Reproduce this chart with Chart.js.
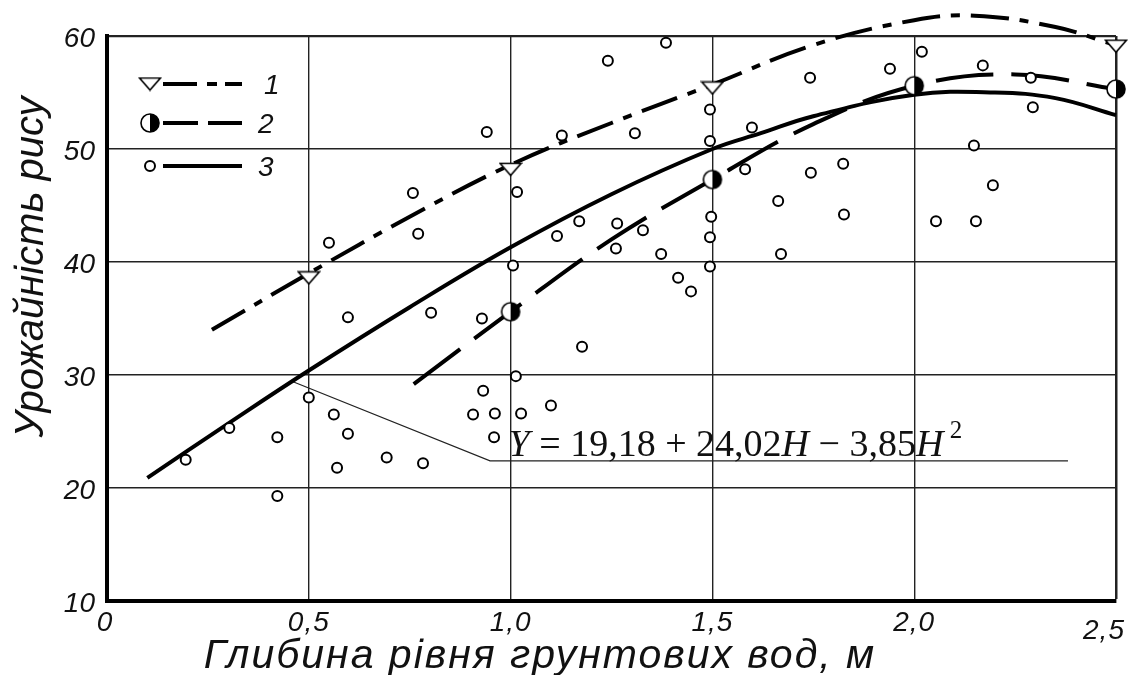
<!DOCTYPE html>
<html>
<head>
<meta charset="utf-8">
<script src="https://cdn.jsdelivr.net/npm/chart.js@4.4.1/dist/chart.umd.min.js"></script>
<style>
body { margin: 0; background: #fff; }
#wrap { width: 1129px; height: 675px; }
</style>
</head>
<body>
<div id="wrap"><canvas id="chart" width="1129" height="675"></canvas></div>
<script>
const xTicks = [0, 0.5, 1.0, 1.5, 2.0, 2.5];
const xTickLabels = ["0", "0,5", "1,0", "1,5", "2,0", "2,5"];
const yTicks = [10, 20, 30, 40, 50, 60];
const yTickLabels = ["10", "20", "30", "40", "50", "60"];

// 1 - triangles and dash-dot curve
const s1H = [0.5, 1.0, 1.5, 2.0, 2.5];
const s1Y = [38.6, 48.2, 55.4, 61.4, 59.1];
const curve1H = [0.26, 0.5, 0.75, 1.0, 1.25, 1.5, 1.75, 2.0, 2.15, 2.35, 2.49];
const curve1Y = [34.0, 39.0, 44.0, 48.6, 52.3, 55.7, 59.2, 61.4, 61.8, 60.8, 59.3];

// 2 - half filled circles and dashed curve
const s2H = [1.0, 1.5, 2.0, 2.5];
const s2Y = [35.6, 47.3, 55.6, 55.3];
const curve2H = [0.76, 1.0, 1.25, 1.5, 1.75, 2.0, 2.25, 2.5];
const curve2Y = [29.2, 35.6, 42.0, 47.3, 52.2, 55.6, 56.6, 55.3];

// 3 - field observations and regression curve
const obsH = [0.195, 0.303, 0.422, 0.422, 0.50, 0.55, 0.562, 0.57, 0.597, 0.597, 0.693, 0.758, 0.771, 0.783, 0.803,
  0.907, 0.929, 0.932, 0.941, 0.959, 0.961, 1.006, 1.013, 1.016, 1.026, 1.10, 1.115, 1.127, 1.17, 1.177,
  1.241, 1.261, 1.264, 1.308, 1.328, 1.373, 1.385, 1.415, 1.447, 1.494, 1.494, 1.497, 1.494, 1.494, 1.581,
  1.598, 1.663, 1.67, 1.742, 1.744, 1.824, 1.826, 1.94, 2.019, 2.054, 2.148, 2.153, 2.17, 2.195, 2.289, 2.294];
const obsY = [22.5, 25.3, 24.5, 19.3, 28.0, 41.7, 26.5, 21.8, 35.1, 24.8, 22.7, 46.1, 42.5, 22.2, 35.5,
  26.5, 35.0, 28.6, 51.5, 24.5, 26.6, 39.7, 29.9, 46.2, 26.6, 27.3, 42.3, 51.2, 43.6, 32.5,
  57.8, 41.2, 43.4, 51.4, 42.8, 40.7, 59.4, 38.6, 37.4, 53.5, 50.7, 44.0, 42.2, 39.6, 48.2,
  51.9, 45.4, 40.7, 56.3, 47.9, 48.7, 44.2, 57.1, 58.6, 43.6, 50.3, 43.6, 57.4, 46.8, 56.3, 53.7];
const fitH = [0.1, 0.3, 0.5, 0.75, 1.0, 1.25, 1.5, 1.62, 1.75, 2.0, 2.2, 2.35, 2.5];
const fitY = [20.9, 25.7, 30.4, 36.0, 41.3, 46.0, 50.0, 51.4, 52.9, 54.8, 55.0, 54.5, 53.0];

// leader line from the curve to the equation
const leaderH = [0.461, 0.949, 2.381];
const leaderY = [29.4, 22.4, 22.4];

const toPts = (h, y) => h.map((v, i) => ({ x: v, y: y[i] }));

// marker images
function triangleImg() {
    const c = document.createElement("canvas");
    c.width = 24; c.height = 15;
    const g = c.getContext("2d");
    g.beginPath();
    g.moveTo(1.5, 1.5); g.lineTo(22.5, 1.5); g.lineTo(12, 13.5); g.closePath();
    g.fillStyle = "#fff"; g.fill();
    g.lineWidth = 1.6; g.strokeStyle = "#000"; g.stroke();
    return c;
}
function halfCircleImg() {
    const c = document.createElement("canvas");
    c.width = 22; c.height = 22;
    const g = c.getContext("2d");
    g.beginPath(); g.arc(11, 11, 9, 0, Math.PI * 2); g.fillStyle = "#fff"; g.fill();
    g.beginPath(); g.arc(11, 11, 9, -Math.PI / 2, Math.PI / 2); g.closePath(); g.fillStyle = "#000"; g.fill();
    g.beginPath(); g.arc(11, 11, 9, 0, Math.PI * 2); g.lineWidth = 1.6; g.strokeStyle = "#000"; g.stroke();
    return c;
}
const triImg = triangleImg();
const halfImg = halfCircleImg();

const sans = '"Liberation Sans", Arial, sans-serif';
const serif = '"Liberation Serif", "Times New Roman", serif';

const decor = {
    id: "decor",
    afterDraw(chart) {
        const ctx = chart.ctx;
        const xs = chart.scales.x, ys = chart.scales.y;
        ctx.save();
        ctx.fillStyle = "#111";

        // tick labels
        ctx.font = "italic 28px " + sans;
        ctx.textAlign = "right";
        ctx.textBaseline = "middle";
        yTicks.forEach((v, i) => ctx.fillText(yTickLabels[i], 95, ys.getPixelForValue(v) + 3));
        ctx.textAlign = "center";
        ctx.letterSpacing = "1px";
        xTicks.forEach((v, i) => {
            let px = xs.getPixelForValue(v), py = 623;
            if (i === 0) px -= 2;
            if (i === xTicks.length - 1) { px -= 12; py += 8; }
            ctx.fillText(xTickLabels[i], px, py);
        });

        // axis titles
        ctx.font = "italic 41px " + sans;
        ctx.textBaseline = "alphabetic";
        ctx.letterSpacing = "2px";
        ctx.fillText("Глибина рівня грунтових вод, м", 540, 668);
        ctx.letterSpacing = "0px";
        ctx.save();
        ctx.translate(43, 267);
        ctx.rotate(-Math.PI / 2);
        ctx.font = "italic 40px " + sans;
        ctx.fillText("Урожайність рису", 0, 0);
        ctx.restore();

        // equation
        let ex = xs.getPixelForValue(1.0) - 2;
        const ey = ys.getPixelForValue(22.8);
        ctx.textAlign = "left";
        const parts = [
            ["italic 38px " + serif, "Y", 0],
            ["38px " + serif, " = 19,18 + 24,02", 0],
            ["italic 38px " + serif, "H", 0],
            ["38px " + serif, " \u2212 3,85", 0],
            ["italic 38px " + serif, "H", 0],
            ["25px " + serif, " 2", -18]
        ];
        parts.forEach(p => {
            ctx.font = p[0];
            ctx.fillText(p[1], ex, ey + p[2]);
            ex += ctx.measureText(p[1]).width;
        });

        // legend
        const rows = [
            { y: 84, img: triImg, dash: [34, 10, 10, 8], label: "1" },
            { y: 123, img: halfImg, dash: [35, 10], label: "2" },
            { y: 166, img: null, dash: [], label: "3" }
        ];
        rows.forEach(r => {
            ctx.beginPath();
            ctx.setLineDash(r.dash);
            ctx.lineWidth = 4;
            ctx.strokeStyle = "#000";
            ctx.moveTo(163, r.y); ctx.lineTo(242, r.y);
            ctx.stroke();
            ctx.setLineDash([]);
            if (r.img) {
                ctx.drawImage(r.img, 150 - r.img.width / 2, r.y - r.img.height / 2);
            } else {
                ctx.beginPath();
                ctx.arc(150, r.y, 5, 0, Math.PI * 2);
                ctx.fillStyle = "#fff"; ctx.fill();
                ctx.lineWidth = 2; ctx.stroke();
            }
            ctx.fillStyle = "#111";
            ctx.font = "italic 28px " + sans;
            ctx.textAlign = "left";
            ctx.textBaseline = "middle";
            ctx.fillText(r.label, r.label === "1" ? 264 : 258, r.y + 2);
        });
        ctx.restore();
    }
};

const ctx = document.getElementById("chart");
const chart = new Chart(ctx, {
    type: "scatter",
    data: {
        datasets: [
            {
                data: toPts(obsH, obsY),
                pointStyle: "circle", pointRadius: 5, pointBorderWidth: 2,
                pointBorderColor: "#000", pointBackgroundColor: "#fff", showLine: false
            },
            {
                data: toPts(s1H, s1Y),
                pointStyle: triImg, pointRadius: 11, showLine: false, clip: false
            },
            {
                data: toPts(s2H, s2Y),
                pointStyle: halfImg, pointRadius: 10, showLine: false, clip: false
            },
            {
                data: toPts(curve1H, curve1Y), showLine: true, pointRadius: 0,
                borderColor: "#000", borderWidth: 4, borderDash: [38, 11, 9, 11], tension: 0.4, clip: false
            },
            {
                data: toPts(curve2H, curve2Y), showLine: true, pointRadius: 0,
                borderColor: "#000", borderWidth: 4, borderDash: [58, 18], tension: 0.4, clip: false
            },
            {
                data: toPts(fitH, fitY), showLine: true, pointRadius: 0,
                borderColor: "#000", borderWidth: 4, tension: 0.4, clip: false
            },
            {
                data: toPts(leaderH, leaderY), showLine: true, pointRadius: 0,
                borderColor: "#222", borderWidth: 1.2, tension: 0
            }
        ]
    },
    options: {
        responsive: false,
        animation: false,
        layout: { padding: { left: 107, top: 36, right: 13, bottom: 74 } },
        scales: {
            x: {
                type: "linear", min: 0, max: 2.5,
                ticks: { display: false, stepSize: 0.5 },
                grid: {
                    color: "#222", drawTicks: false,
                    lineWidth: (c) => (c.tick && c.tick.value === 2.5 ? 2.5 : 1.4)
                },
                border: { color: "#000", width: 4 }
            },
            y: {
                min: 10, max: 60,
                ticks: { display: false, stepSize: 10 },
                grid: {
                    color: "#222", drawTicks: false,
                    lineWidth: (c) => (c.tick && c.tick.value === 60 ? 2.2 : 1.4)
                },
                border: { color: "#000", width: 4 }
            }
        },
        plugins: {
            legend: { display: false },
            tooltip: { enabled: false }
        }
    },
    plugins: [decor]
});
</script>
</body>
</html>
